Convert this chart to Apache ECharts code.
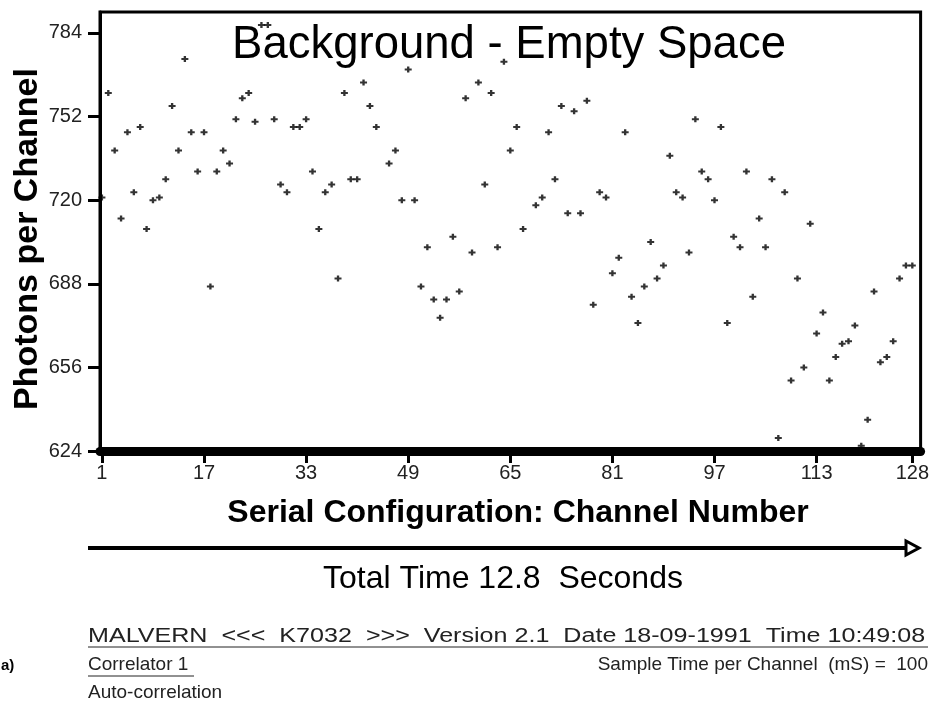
<!DOCTYPE html>
<html>
<head>
<meta charset="utf-8">
<script src="https://cdn.jsdelivr.net/npm/echarts@6/dist/echarts.min.js"></script>
<style>
html,body{margin:0;padding:0;background:#fff;}
#chart{width:932px;height:709px;}
</style>
</head>
<body>
<div id="chart"></div>
<script>
// ---- data ----
var channels = [1,2,3,4,5,6,7,8,9,10,11,12,13,14,15,16,17,18,19,20,
  21,22,23,24,25,26,27,28,29,30,31,32,33,34,35,36,37,38,39,40,
  41,42,43,44,45,46,47,48,49,50,51,52,53,54,55,56,57,58,59,60,
  61,62,63,64,65,66,67,68,69,70,71,72,73,74,75,76,77,78,79,80,
  81,82,83,84,85,86,87,88,89,90,91,92,93,94,95,96,97,98,99,100,
  101,102,103,104,105,106,107,108,109,110,111,112,113,114,115,116,117,118,119,120,
  121,122,123,124,125,126,127,128];
var photons = [721,761,739,713,746,723,748,709,720,721,
  728,756,739,774,746,731,746,687,731,739,
  734,751,759,761,750,787,787,751,726,723,
  748,748,751,731,709,723,726,690,761,728,
  728,765,756,748,null,734,739,720,770,720,
  687,702,682,675,682,706,685,759,700,765,
  726,761,702,773,739,748,709,null,718,721,
  746,728,756,715,754,715,758,680,723,721,
  692,698,746,683,673,687,704,690,695,737,
  723,721,700,751,731,728,720,748,673,706,
  702,731,683,713,702,728,629,723,651,690,
  656,711,669,677,651,660,665,666,672,626,
  636,685,658,660,666,690,695,695];
var xTicks = [1,17,33,49,65,81,97,113,128];
var yTicks = [624,656,688,720,752,784];

var titleText = 'Background - Empty Space';
var yTitle = 'Photons per Channel';
var xTitle = 'Serial Configuration: Channel Number';
var timeText = 'Total Time 12.8  Seconds';
var footer1 = 'MALVERN  <<<  K7032  >>>  Version 2.1  Date 18-09-1991  Time 10:49:08';
var footer2a = 'Correlator 1';
var footer2b = 'Sample Time per Channel  (mS) =  100';
var footer3 = 'Auto-correlation';

var points = channels.map(function (c, i) {
  return [c, photons[i] == null ? '-' : photons[i]];
});

var F = "'Liberation Sans', Arial, sans-serif";
function txt(x, y, text, font, align, fill, extra) {
  var el = { type: 'text', x: x, y: y,
    style: { text: text, font: font, fill: fill || '#000', align: align, verticalAlign: 'middle',
             textAlign: align, textVerticalAlign: 'middle' } };
  if (extra) { for (var k in extra) el[k] = extra[k]; }
  return el;
}
var chart = echarts.init(document.getElementById('chart'));
chart.setOption({
  backgroundColor: '#fff',
  animation: false,
  grid: {
    left: 100, right: 10, top: 12, bottom: 258,
    show: true, borderColor: '#000', borderWidth: 3, backgroundColor: 'transparent'
  },
  xAxis: {
    type: 'value', min: 0.7, max: 129.3,
    axisLine: { show: true, lineStyle: { color: '#000', width: 9 } },
    axisTick: { show: true, customValues: xTicks, length: 12, lineStyle: { color: '#000', width: 3 } },
    axisLabel: { customValues: xTicks, margin: 12, fontFamily: F, fontSize: 20, color: '#222' },
    splitLine: { show: false }
  },
  yAxis: {
    type: 'value', min: 624, max: 792,
    axisLine: { show: true, lineStyle: { color: '#000', width: 3 } },
    axisTick: { show: true, customValues: yTicks, length: 12, lineStyle: { color: '#000', width: 3 } },
    axisLabel: { customValues: yTicks, margin: 18, fontFamily: F, fontSize: 20, color: '#222' },
    splitLine: { show: false }
  },
  series: [{
    type: 'scatter',
    data: points,
    symbol: 'path://M2,0h2v2h2v2h-2v2h-2v-2h-2v-2h2z',
    symbolSize: [7, 6],
    itemStyle: { color: '#000' },
    z: 3
  }],
  graphic: [
    txt(509, 45, titleText, 'normal 45.5px ' + F, 'center'),
    txt(28, 239, yTitle, 'bold 34px ' + F, 'center', '#000', { rotation: Math.PI / 2 }),
    txt(518, 513, xTitle, 'bold 32px ' + F, 'center'),
    { type: 'line', shape: { x1: 88, y1: 548, x2: 906, y2: 548 }, style: { stroke: '#000', lineWidth: 4 } },
    { type: 'polygon', shape: { points: [[906, 541], [906, 555], [919, 548]] }, style: { fill: '#fff', stroke: '#000', lineWidth: 3 } },
    txt(503, 579, timeText, 'normal 32px ' + F, 'center'),
    txt(88, 636, footer1, 'normal 20px ' + F, 'left', '#222', { scaleX: 1.255 }),
    { type: 'line', shape: { x1: 88, y1: 647, x2: 928, y2: 647 }, style: { stroke: '#222', lineWidth: 1 } },
    txt(1, 666, 'a)', 'bold 15px ' + F, 'left'),
    txt(88, 665, footer2a, 'normal 19px ' + F, 'left', '#222'),
    { type: 'line', shape: { x1: 88, y1: 676, x2: 194, y2: 676 }, style: { stroke: '#222', lineWidth: 1 } },
    txt(928, 665, footer2b, 'normal 19px ' + F, 'right', '#222'),
    txt(88, 693, footer3, 'normal 19px ' + F, 'left', '#222')
  ]
});
</script>
</body>
</html>
